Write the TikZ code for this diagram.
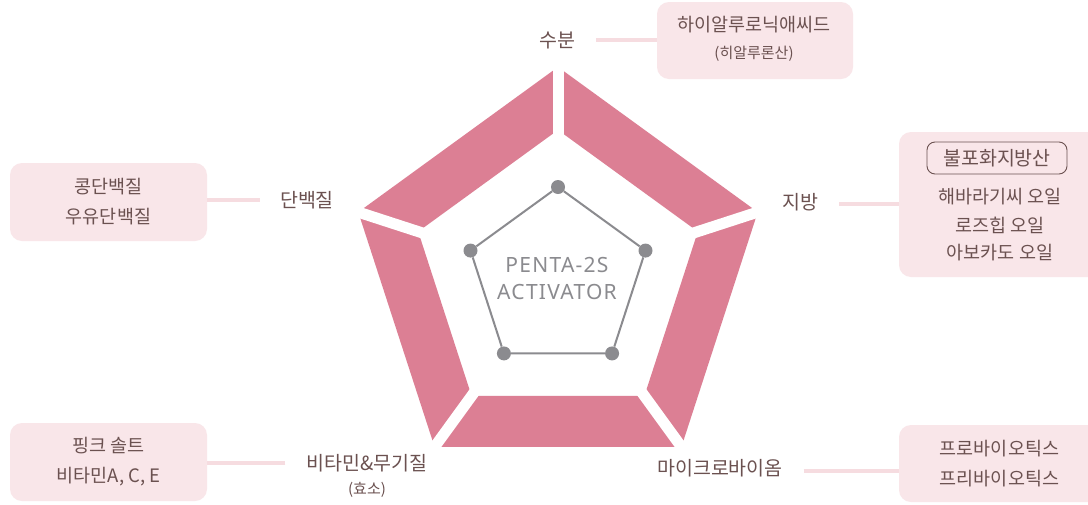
\documentclass[tikz,border=0pt]{standalone}
\usepackage{fontspec}
\setmainfont{Noto Sans CJK KR}
\newfontfamily\latinfont[LetterSpace=6]{Noto Sans}
\usetikzlibrary{calc}
\definecolor{petal}{HTML}{DC7F94}
\definecolor{boxfill}{HTML}{F9E6E9}
\definecolor{connc}{HTML}{F6DCE0}
\definecolor{txt}{HTML}{6B5150}
\definecolor{graydot}{HTML}{8B8B8F}
\begin{document}
\begin{tikzpicture}[x=1pt,y=-1pt,
  lab/.style={text=txt,font=\fontsize{19.5}{22}\selectfont,inner sep=0pt},
  infobox/.style={fill=boxfill,rounded corners=12pt,inner sep=0pt,text=txt,align=center,font=\fontsize{18.5}{30}\selectfont},
  boxtext/.style={text=txt,inner sep=0pt,font=\fontsize{18.5}{22}\selectfont},
  tagbox/.style={draw=txt,line width=0.9pt,rounded corners=8pt,text=txt,inner sep=0pt,minimum width=140pt,minimum height=32pt,font=\fontsize{19.5}{22}\selectfont},
  conn/.style={draw=connc,line width=4pt},
  gapline/.style={draw=white,line width=11pt},
  dotnode/.style={circle,fill=graydot,inner sep=0pt,minimum size=14pt},
  grayline/.style={draw=graydot,line width=2pt}]
\useasboundingbox (0,0) rectangle (1088,504);
\clip (0,0) rectangle (1088,504);
\fill[white] (0,0) rectangle (1088,504);

% pentagon ring
\coordinate (C) at (558,277);
\fill[petal,even odd rule]
  ($(C)+(-90:210)$) -- ($(C)+(-18:210)$) -- ($(C)+(54:210)$) -- ($(C)+(126:210)$) -- ($(C)+(198:210)$) -- cycle
  ($(C)+(-90:147)$) -- ($(C)+(-18:147)$) -- ($(C)+(54:147)$) -- ($(C)+(126:147)$) -- ($(C)+(198:147)$) -- cycle;
\foreach \a in {-90,-18,54,126,198}
  \draw[gapline] ($(C)+(\a:135)$) -- ($(C)+(\a:228)$);

% inner gray pentagon
\coordinate (G) at (558,279);
\node[dotnode] (g1) at ($(G)+(-90:92)$) {};
\node[dotnode] (g2) at ($(G)+(-18:92)$) {};
\node[dotnode] (g3) at ($(G)+(54:92)$) {};
\node[dotnode] (g4) at ($(G)+(126:92)$) {};
\node[dotnode] (g5) at ($(G)+(198:92)$) {};
\draw[grayline] (g1) -- (g2) -- (g3) -- (g4) -- (g5) -- (g1);
\node[text=graydot,align=center,inner sep=0pt,font=\latinfont\fontsize{21}{27}\selectfont] (title) at (557,278) {PENTA-2S\\ACTIVATOR};

% axis labels
\node[lab] (w) at (557,40) {수분};
\node[lab] (f) at (800,202) {지방};
\node[lab] (p) at (307,200) {단백질};
\node[lab] (v) at (367,463) {비타민\&무기질};
\node[lab,font=\fontsize{15}{16}\selectfont] (vs) at (367,490) {(효소)};
\node[lab] (m) at (720,468) {마이크로바이옴};

% boxes
\node[infobox,minimum width=196pt,minimum height=77pt] (wb) at (755,40.5) {};
\node[boxtext] (wb1) at (754,25) {하이알루로닉애씨드};
\node[boxtext,font=\fontsize{15}{18}\selectfont] (wb2) at (754,54) {(히알루론산)};

\node[infobox,minimum width=201pt,minimum height=145pt] (fb) at (999.5,204.5) {};
\node[tagbox] (fb0) at (997,158) {불포화지방산};
\node[boxtext] (fb1) at (1000,197) {해바라기씨 오일};
\node[boxtext] (fb2) at (1000,225) {로즈힙 오일};
\node[boxtext] (fb3) at (1000,253) {아보카도 오일};

\node[infobox,minimum width=197pt,minimum height=78pt] (pb) at (108.5,202) {콩단백질\\우유단백질};
\node[infobox,minimum width=197pt,minimum height=78pt] (vb) at (108.5,462) {핑크 솔트\\비타민A, C, E};
\node[infobox,minimum width=201pt,minimum height=77pt] (mb) at (999.5,463.5) {프로바이오틱스\\프리바이오틱스};

% connectors
\draw[conn] ([xshift=21pt]w.east) -- (w.east -| wb.west);
\draw[conn] ([xshift=21pt,yshift=-2pt]f.east) -- ([yshift=-2pt]f.east -| fb.west);
\draw[conn] ([xshift=-20pt]p.west) -- (p.west -| pb.east);
\draw[conn] ([xshift=-21pt]v.west) -- (v.west -| vb.east);
\draw[conn] ([xshift=21pt,yshift=-3pt]m.east) -- ([yshift=-3pt]m.east -| mb.west);
\end{tikzpicture}
\end{document}
